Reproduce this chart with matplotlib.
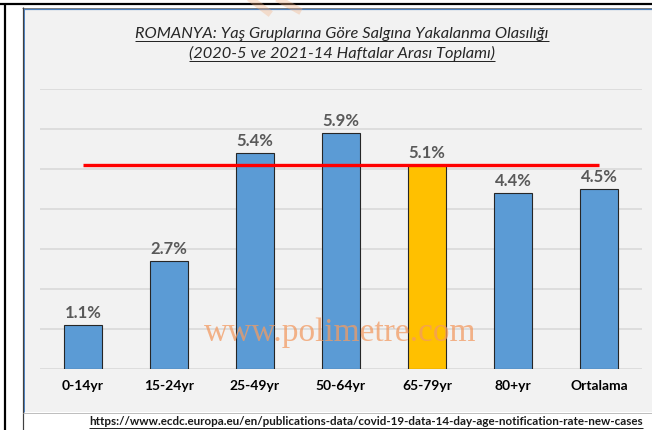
import matplotlib
matplotlib.use('Agg')
import matplotlib.pyplot as plt
from matplotlib.patches import Rectangle
from matplotlib.lines import Line2D

categories = ['0-14yr', '15-24yr', '25-49yr', '50-64yr', '65-79yr', '80+yr', 'Ortalama']
values = [1.1, 2.7, 5.4, 5.9, 5.1, 4.4, 4.5]
value_labels = ['1.1%', '2.7%', '5.4%', '5.9%', '5.1%', '4.4%', '4.5%']
bar_colors = ['#5b9bd5', '#5b9bd5', '#5b9bd5', '#5b9bd5', '#ffc000', '#5b9bd5', '#5b9bd5']
ref_level = 5.1
title_lines = ['ROMANYA: Yaş Gruplarına Göre Salgına Yakalanma Olasılığı',
               '(2020-5 ve 2021-14 Haftalar Arası Toplamı)']
source = 'https://www.ecdc.europa.eu/en/publications-data/covid-19-data-14-day-age-notification-rate-new-cases'
watermark = 'www.polimetre.com'

plt.rcParams['font.family'] = ['Lato', 'DejaVu Sans']

W, H = 652, 430
fig = plt.figure(figsize=(W / 100, H / 100), dpi=100)
fig.patch.set_facecolor('white')


def fx(x):
    return x / W


def fy(y):
    return 1 - y / H


def hline(x0, x1, y, color, lw_px, z=1):
    fig.add_artist(Line2D([fx(x0), fx(x1)], [fy(y), fy(y)], transform=fig.transFigure,
                          color=color, lw=lw_px * 0.72, zorder=z, solid_capstyle='butt'))


def vline(x, y0, y1, color, lw_px, z=1):
    fig.add_artist(Line2D([fx(x), fx(x)], [fy(y0), fy(y1)], transform=fig.transFigure,
                          color=color, lw=lw_px * 0.72, zorder=z, solid_capstyle='butt'))


# chart panel
fig.add_artist(Rectangle((fx(23), fy(412)), fx(652 - 23), (412 - 9) / H,
                         transform=fig.transFigure, facecolor='#f2f2f2',
                         edgecolor='none', zorder=-5))
# frame lines
hline(0, 652, 4, 'black', 2.2)
vline(5, 3, 430, 'black', 2.2)
hline(22, 652, 7.5, '#7f7f7f', 1)
hline(23, 652, 9, '#4f81bd', 1.2)
vline(22.5, 7, 430, '#404040', 1.2)
vline(24, 9, 412, '#4f81bd', 1)
hline(23, 652, 412.5, '#bfbfbf', 1)
hline(23, 652, 429.5, '#d9d9d9', 1)

# faint watermark fragment at top
fig.add_artist(Line2D([fx(252), fx(268)], [fy(0), fy(12)], transform=fig.transFigure,
                      color='#f4b183', alpha=0.35, lw=5, zorder=1))
fig.add_artist(Line2D([fx(280), fx(298)], [fy(0), fy(10)], transform=fig.transFigure,
                      color='#f4b183', alpha=0.35, lw=5, zorder=1))

ax = fig.add_axes([fx(40), fy(369), fx(602), 280 / H])
ax.set_zorder(2)
ax.set_facecolor('none')
ax.set_xlim(-0.5, 6.5)
ax.set_ylim(0, 7)
ax.set_yticks(range(0, 8))
ax.yaxis.grid(True, color='#d9d9d9', lw=1.2)
ax.set_axisbelow(True)
for s in ax.spines.values():
    s.set_visible(False)
ax.tick_params(axis='y', left=False, labelleft=False)
ax.tick_params(axis='x', length=0, pad=8)

x = list(range(len(categories)))
ax.bar(x, values, width=0.45, color=bar_colors, edgecolor='#262626', linewidth=0.8, zorder=2)
ax.set_xticks(x)
ax.set_xticklabels(categories, fontsize=10, fontweight='bold', color='black')

for xi, v, lab in zip(x, values, value_labels):
    ax.annotate(lab, (xi, v), xytext=(0, 3), textcoords='offset points',
                ha='center', va='bottom', fontsize=12, fontweight='bold', color='#595959')

ax.plot([x[0], x[-1]], [ref_level, ref_level], color='#ff0000', lw=2.4, zorder=3,
        solid_capstyle='butt')

# title lines
t1 = fig.text(fx(342), fy(38), title_lines[0], ha='center', va='baseline', fontsize=11.8,
              fontstyle='italic', color='#262626')
t2 = fig.text(fx(342), fy(58), title_lines[1], ha='center', va='baseline', fontsize=11.8,
              fontstyle='italic', color='#262626')
t3 = fig.text(fx(643), fy(425), source, ha='right', va='baseline', fontsize=8.4,
              fontweight='bold', color='#1a1a1a')

# watermark
fig.text(fx(340), fy(341), watermark, ha='center', va='baseline', fontsize=24,
         family=['Liberation Serif', 'DejaVu Serif'], color='#f29b63', alpha=0.75, zorder=5)

fig.canvas.draw()
r = fig.canvas.get_renderer()
for t, yb in ((t1, 40.5), (t2, 60.5), (t3, 427.5)):
    bb = t.get_window_extent(r)
    hline(bb.x0, bb.x1, yb, '#262626', 1, z=4)

fig.savefig('out.png', dpi=100)
